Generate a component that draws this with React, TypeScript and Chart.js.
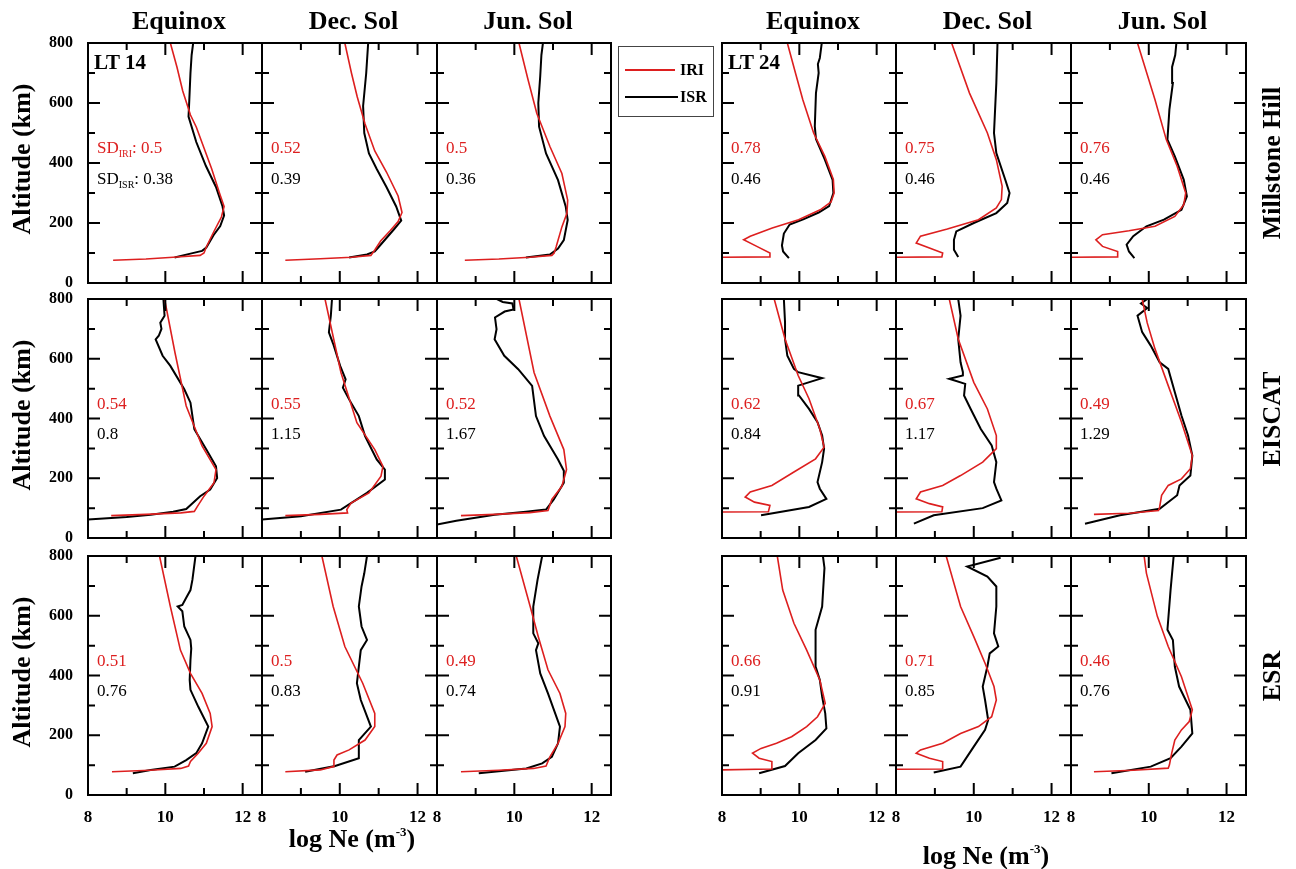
import React, { useEffect, useRef } from 'react';
import { Chart, registerables } from 'chart.js';

Chart.register(...registerables);

type Pt = [number, number]; // [log Ne, altitude km]

// ---------- labels / ticks ----------
const COLUMN_TITLES = ['Equinox', 'Dec. Sol', 'Jun. Sol'];
const ROW_LABELS = ['Millstone Hill', 'EISCAT', 'ESR'];
const LT_LABELS = ['LT 14', 'LT 24'];
const X_TICK_LABELS = [8, 10, 12];
const X_TICK_MARKS = [9, 10, 11, 12];
const Y_TICK_LABELS = [0, 200, 400, 600, 800];
const Y_TICK_MARKS = [100, 200, 300, 400, 500, 600, 700];
const X_MIN = 8, X_MAX = 12.5, Y_MIN = 0, Y_MAX = 800;
const SERIES_NAMES = ['IRI', 'ISR'];

const SD_IRI = [
  ['0.5', '0.52', '0.5', '0.78', '0.75', '0.76'],
  ['0.54', '0.55', '0.52', '0.62', '0.67', '0.49'],
  ['0.51', '0.5', '0.49', '0.66', '0.71', '0.46'],
];
const SD_ISR = [
  ['0.38', '0.39', '0.36', '0.46', '0.46', '0.46'],
  ['0.8', '1.15', '1.67', '0.84', '1.17', '1.29'],
  ['0.76', '0.83', '0.74', '0.91', '0.85', '0.76'],
];

// ---------- Millstone Hill ----------
const MH_EQ14_IRI: Pt[] = [[8.65,76],[9.5,80],[10.2,86],[10.9,92],[11.0,100],[11.06,120],[11.25,170],[11.45,220],[11.52,255],[11.4,300],[11.2,380],[11.0,450],[10.8,520],[10.65,560],[10.45,640],[10.3,720],[10.13,800]];
const MH_EQ14_ISR: Pt[] = [[10.24,85],[10.65,98],[10.95,107],[11.06,118],[11.25,160],[11.42,190],[11.52,225],[11.48,255],[11.31,320],[11.05,390],[10.8,470],[10.6,555],[10.62,610],[10.65,700],[10.68,760],[10.72,800]];
const MH_DEC14_IRI: Pt[] = [[8.6,76],[9.5,81],[10.3,86],[10.8,92],[10.9,110],[11.05,140],[11.3,175],[11.5,205],[11.6,235],[11.5,290],[11.2,370],[10.9,440],[10.65,530],[10.45,620],[10.3,700],[10.13,800]];
const MH_DEC14_ISR: Pt[] = [[10.24,85],[10.7,95],[10.9,105],[11.0,120],[11.2,150],[11.4,180],[11.58,208],[11.45,255],[11.2,320],[10.95,380],[10.75,432],[10.63,500],[10.6,590],[10.68,700],[10.73,800]];
const MH_JUN14_IRI: Pt[] = [[8.72,76],[9.6,80],[10.4,86],[10.97,92],[11.03,100],[11.08,120],[11.23,187],[11.36,232],[11.38,276],[11.23,365],[10.92,455],[10.58,566],[10.35,680],[10.12,800]];
const MH_JUN14_ISR: Pt[] = [[10.3,85],[10.92,95],[11.13,115],[11.28,143],[11.38,210],[11.33,254],[11.13,343],[10.82,432],[10.64,521],[10.62,600],[10.67,690],[10.7,760],[10.74,800]];
const MH_EQ24_IRI: Pt[] = [[8.0,86],[9.22,87],[9.24,100],[8.9,122],[8.56,144],[8.73,156],[9.3,183],[9.98,211],[10.54,244],[10.82,270],[10.9,300],[10.88,345],[10.66,422],[10.37,500],[10.09,611],[9.9,700],[9.69,800]];
const MH_EQ24_ISR: Pt[] = [[9.73,83],[9.58,105],[9.55,125],[9.6,165],[9.75,195],[10.1,212],[10.5,235],[10.77,256],[10.88,300],[10.86,344],[10.66,411],[10.43,480],[10.4,522],[10.43,633],[10.5,700],[10.48,730],[10.53,750],[10.58,800]];
const MH_DEC24_IRI: Pt[] = [[8.0,86],[9.18,87],[9.2,100],[8.86,117],[8.52,133],[8.63,156],[9.32,180],[10.12,211],[10.58,250],[10.71,278],[10.73,322],[10.58,411],[10.35,500],[9.89,633],[9.43,800]];
const MH_DEC24_ISR: Pt[] = [[9.6,87],[9.49,111],[9.49,144],[9.55,172],[10.0,200],[10.58,233],[10.86,267],[10.92,300],[10.81,344],[10.58,433],[10.52,500],[10.58,667],[10.61,800]];
const MH_JUN24_IRI: Pt[] = [[8.02,86],[9.2,87],[9.2,105],[8.81,122],[8.64,144],[8.81,161],[9.49,174],[10.16,189],[10.67,222],[10.9,261],[10.95,300],[10.73,389],[10.45,478],[10.16,611],[9.71,800]];
const MH_JUN24_ISR: Pt[] = [[9.63,83],[9.49,105],[9.43,128],[9.6,156],[9.94,189],[10.39,211],[10.84,244],[10.98,289],[10.9,344],[10.67,422],[10.48,478],[10.53,578],[10.62,667],[10.6,720],[10.68,760],[10.71,800]];

// ---------- EISCAT ----------
const EI_EQ14_IRI: Pt[] = [[8.6,75],[9.5,79],[10.4,84],[10.75,89],[10.83,106],[11.0,140],[11.26,185],[11.31,229],[10.95,308],[10.54,442],[10.25,620],[9.98,800]];
const EI_EQ14_ISR: Pt[] = [[8.0,62],[9.0,70],[9.62,78],[10.2,88],[10.54,97],[10.9,140],[11.16,162],[11.34,201],[11.31,240],[11.06,296],[10.75,364],[10.65,453],[10.49,498],[10.13,576],[9.93,610],[9.75,665],[9.83,677],[9.9,700],[9.87,721],[9.98,744],[9.95,800]];
const EI_DEC14_IRI: Pt[] = [[8.6,75],[9.5,79],[10.2,84],[10.18,95],[10.29,117],[10.75,151],[11.06,207],[11.11,240],[10.9,296],[10.44,386],[10.03,554],[9.62,800]];
const EI_DEC14_ISR: Pt[] = [[8.0,62],[9.0,73],[10.03,95],[10.7,151],[11.16,196],[11.16,229],[10.95,263],[10.65,341],[10.49,408],[10.24,464],[10.08,503],[10.15,531],[10.01,576],[9.83,650],[9.72,688],[9.77,744],[9.8,800]];
const EI_JUN14_IRI: Pt[] = [[8.62,75],[9.5,79],[10.4,85],[10.87,92],[10.97,129],[11.23,173],[11.35,229],[11.28,296],[10.92,408],[10.51,554],[10.12,800]];
const EI_JUN14_ISR: Pt[] = [[8.0,45],[8.5,58],[9.49,78],[10.3,88],[10.82,95],[11.02,129],[11.28,185],[11.28,225],[11.13,263],[10.77,341],[10.56,408],[10.46,509],[10.1,565],[9.74,610],[9.49,665],[9.54,699],[9.5,738],[9.75,758],[9.98,765],[9.95,785],[9.7,790],[9.55,800]];
const EI_EQ24_IRI: Pt[] = [[8.0,87],[9.2,88],[9.24,109],[8.84,120],[8.6,137],[8.73,154],[9.29,176],[9.86,221],[10.42,265],[10.64,304],[10.53,365],[10.25,466],[9.97,544],[9.63,666],[9.35,800]];
const EI_EQ24_ISR: Pt[] = [[9.01,76],[10.25,104],[10.7,131],[10.53,165],[10.47,187],[10.59,254],[10.64,299],[10.59,343],[10.47,388],[10.25,432],[9.99,477],[9.97,510],[10.59,535],[9.97,555],[9.86,566],[9.69,610],[9.63,666],[9.63,722],[9.6,800]];
const EI_DEC24_IRI: Pt[] = [[8.0,87],[9.18,88],[9.2,104],[8.86,115],[8.52,131],[8.63,154],[9.2,176],[9.66,209],[10.23,254],[10.58,299],[10.58,343],[10.35,432],[10.0,521],[9.6,666],[9.37,800]];
const EI_DEC24_ISR: Pt[] = [[8.46,48],[8.97,76],[10.23,100],[10.71,126],[10.58,165],[10.52,187],[10.58,254],[10.46,310],[10.18,365],[9.92,432],[9.75,477],[9.78,516],[9.37,533],[9.72,544],[9.72,555],[9.66,588],[9.6,666],[9.66,744],[9.6,800]];
const EI_JUN24_IRI: Pt[] = [[8.59,79],[9.5,83],[10.25,92],[10.28,104],[10.33,143],[10.5,176],[10.84,198],[11.07,232],[11.12,276],[10.84,388],[10.5,510],[10.16,633],[9.96,720],[9.83,800]];
const EI_JUN24_ISR: Pt[] = [[8.36,48],[9.26,76],[10.28,98],[10.73,143],[10.79,176],[11.07,209],[11.12,276],[11.01,343],[10.84,410],[10.67,488],[10.5,566],[10.28,588],[10.05,644],[9.83,689],[9.71,744],[9.96,770],[9.8,785],[9.96,800]];

// ---------- ESR ----------
const ES_EQ14_IRI: Pt[] = [[8.62,78],[9.6,83],[10.4,89],[10.6,97],[10.65,112],[10.85,140],[11.06,173],[11.21,229],[11.16,273],[10.95,340],[10.65,407],[10.39,485],[10.13,631],[9.85,800]];
const ES_EQ14_ISR: Pt[] = [[9.16,73],[9.62,84],[10.24,95],[10.54,117],[10.8,140],[10.95,173],[11.11,229],[10.85,296],[10.65,352],[10.63,385],[10.65,452],[10.67,490],[10.65,519],[10.49,564],[10.44,615],[10.32,631],[10.44,636],[10.54,660],[10.65,686],[10.7,720],[10.78,800]];
const ES_DEC14_IRI: Pt[] = [[8.6,78],[9.5,84],[9.83,95],[9.85,117],[9.93,134],[10.24,151],[10.65,184],[10.9,229],[10.9,273],[10.59,374],[10.13,497],[9.83,631],[9.54,800]];
const ES_DEC14_ISR: Pt[] = [[9.11,78],[9.88,97],[10.49,123],[10.49,184],[10.8,229],[10.54,318],[10.44,374],[10.49,430],[10.54,485],[10.7,519],[10.56,564],[10.49,631],[10.56,698],[10.63,742],[10.7,800]];
const ES_JUN14_IRI: Pt[] = [[8.62,78],[9.6,83],[10.5,89],[10.82,97],[10.92,128],[11.13,173],[11.31,229],[11.33,273],[11.18,340],[10.87,419],[10.62,530],[10.41,631],[10.05,800]];
const ES_JUN14_ISR: Pt[] = [[9.08,73],[10.31,89],[10.72,106],[10.97,128],[11.13,173],[11.18,229],[10.87,340],[10.67,407],[10.56,485],[10.62,508],[10.49,541],[10.49,631],[10.6,720],[10.72,800]];
const ES_EQ24_IRI: Pt[] = [[8.0,84],[9.29,87],[9.29,112],[8.96,123],[8.79,140],[9.01,156],[9.41,173],[9.8,195],[10.19,229],[10.47,262],[10.67,307],[10.53,385],[10.19,485],[9.86,575],[9.57,686],[9.43,800]];
const ES_EQ24_ISR: Pt[] = [[8.96,73],[9.63,97],[9.97,140],[10.42,184],[10.7,223],[10.67,273],[10.59,329],[10.53,385],[10.42,430],[10.42,519],[10.42,553],[10.59,631],[10.65,760],[10.61,800]];
const ES_DEC24_IRI: Pt[] = [[8.0,86],[9.2,87],[9.2,112],[8.86,123],[8.52,140],[8.63,151],[9.2,173],[9.66,206],[10.12,229],[10.46,262],[10.58,318],[10.52,363],[10.29,441],[10.0,530],[9.66,631],[9.29,800]];
const ES_DEC24_ISR: Pt[] = [[8.97,75],[9.66,95],[10.0,162],[10.29,218],[10.37,251],[10.29,318],[10.23,363],[10.35,430],[10.41,474],[10.63,497],[10.52,541],[10.58,631],[10.58,698],[10.35,731],[9.83,765],[10.69,794]];
const ES_JUN24_IRI: Pt[] = [[8.59,78],[9.6,83],[10.5,90],[10.53,100],[10.59,140],[10.67,184],[10.84,218],[11.04,246],[11.12,285],[10.84,396],[10.5,497],[10.22,598],[9.94,742],[9.88,800]];
const ES_JUN24_ISR: Pt[] = [[9.04,73],[10.05,95],[10.56,123],[10.84,162],[11.12,206],[11.07,285],[10.78,363],[10.67,430],[10.62,519],[10.48,553],[10.56,686],[10.64,800]];

const IRI_GRID: Pt[][][] = [
  [MH_EQ14_IRI, MH_DEC14_IRI, MH_JUN14_IRI, MH_EQ24_IRI, MH_DEC24_IRI, MH_JUN24_IRI],
  [EI_EQ14_IRI, EI_DEC14_IRI, EI_JUN14_IRI, EI_EQ24_IRI, EI_DEC24_IRI, EI_JUN24_IRI],
  [ES_EQ14_IRI, ES_DEC14_IRI, ES_JUN14_IRI, ES_EQ24_IRI, ES_DEC24_IRI, ES_JUN24_IRI],
];
const ISR_GRID: Pt[][][] = [
  [MH_EQ14_ISR, MH_DEC14_ISR, MH_JUN14_ISR, MH_EQ24_ISR, MH_DEC24_ISR, MH_JUN24_ISR],
  [EI_EQ14_ISR, EI_DEC14_ISR, EI_JUN14_ISR, EI_EQ24_ISR, EI_DEC24_ISR, EI_JUN24_ISR],
  [ES_EQ14_ISR, ES_DEC14_ISR, ES_JUN14_ISR, ES_EQ24_ISR, ES_DEC24_ISR, ES_JUN24_ISR],
];

// ---------- layout / style ----------
const FONT = "'Liberation Serif', 'Times New Roman', serif";
const RED = '#dd1f1f';
const COL_LEFT = [88, 262, 437, 722, 896, 1071];
const COL_RIGHT = [262, 437, 611, 896, 1071, 1246];
const ROW_TOP = [43, 299, 556];
const ROW_BOTTOM = [283, 538, 795];

const framePlugin = {
  id: 'frameTicks',
  afterDatasetsDraw(chart: any) {
    const { ctx, chartArea } = chart;
    const { left, top, right, bottom } = chartArea;
    const xs = chart.scales.x;
    const ys = chart.scales.y;
    ctx.save();
    ctx.strokeStyle = '#000';
    ctx.lineWidth = 2;
    ctx.beginPath();
    X_TICK_MARKS.forEach((v) => {
      const px = xs.getPixelForValue(v);
      const len = v % 2 === 0 ? 12 : 7;
      ctx.moveTo(px, bottom);
      ctx.lineTo(px, bottom - len);
      ctx.moveTo(px, top);
      ctx.lineTo(px, top + len);
    });
    Y_TICK_MARKS.forEach((v) => {
      const py = ys.getPixelForValue(v);
      const len = v % 200 === 0 ? 12 : 7;
      ctx.moveTo(left, py);
      ctx.lineTo(left + len, py);
      ctx.moveTo(right, py);
      ctx.lineTo(right - len, py);
    });
    ctx.stroke();
    ctx.strokeRect(left, top, right - left, bottom - top);
    ctx.restore();
  },
};

function Panel({ r, c }: { r: number; c: number }) {
  const ref = useRef<HTMLCanvasElement>(null);
  const L = COL_LEFT[c], R = COL_RIGHT[c], T = ROW_TOP[r], B = ROW_BOTTOM[r];
  const showY = c === 0;
  const showX = r === 2;
  const padL = showY ? L : 14;
  const padT = 14, padR = 14;
  const padB = showX ? 48 : 14;
  const w = R - L + padL + padR;
  const h = B - T + padT + padB;

  useEffect(() => {
    if (!ref.current) return;
    const chart = new Chart(ref.current, {
      type: 'scatter',
      data: {
        datasets: [
          {
            label: SERIES_NAMES[0],
            data: IRI_GRID[r][c].map(([x, y]) => ({ x, y })),
            showLine: true,
            borderColor: RED,
            backgroundColor: RED,
            borderWidth: 1.6,
            pointRadius: 0,
            tension: 0,
          },
          {
            label: SERIES_NAMES[1],
            data: ISR_GRID[r][c].map(([x, y]) => ({ x, y })),
            showLine: true,
            borderColor: '#000',
            backgroundColor: '#000',
            borderWidth: 2,
            pointRadius: 0,
            tension: 0,
          },
        ],
      },
      options: {
        responsive: false,
        animation: false,
        events: [],
        layout: {
          padding: { left: showY ? 0 : padL, right: padR, top: padT, bottom: showX ? 0 : padB },
        },
        plugins: { legend: { display: false }, tooltip: { enabled: false } },
        scales: {
          x: {
            type: 'linear',
            min: X_MIN,
            max: X_MAX,
            display: showX,
            position: 'bottom',
            afterBuildTicks: (s: any) => { s.ticks = X_TICK_LABELS.map((v) => ({ value: v })); },
            afterFit: (s: any) => { if (showX) s.height = padB; },
            grid: { display: false, drawTicks: true, tickLength: 12 },
            border: { display: false },
            ticks: { padding: 0, color: '#000', font: { family: FONT, size: 17, weight: 'bold' }, maxRotation: 0, autoSkip: false },
          },
          y: {
            type: 'linear',
            min: Y_MIN,
            max: Y_MAX,
            display: showY,
            position: 'left',
            afterBuildTicks: (s: any) => { s.ticks = Y_TICK_LABELS.map((v) => ({ value: v })); },
            afterFit: (s: any) => { if (showY) s.width = padL; },
            grid: { display: false, drawTicks: true, tickLength: 15 },
            border: { display: false },
            ticks: { padding: 0, color: '#000', font: { family: FONT, size: 16, weight: 'bold' }, autoSkip: false },
          },
        },
      } as any,
      plugins: [framePlugin],
    });
    return () => chart.destroy();
  }, [r, c]);

  return (
    <canvas
      ref={ref}
      width={w}
      height={h}
      style={{ position: 'absolute', left: L - padL, top: T - padT, width: w, height: h }}
    />
  );
}

function Txt({ x, y, children, size = 26, bold = true, rotate = 0, color = '#000' }: any) {
  return (
    <div
      style={{
        position: 'absolute',
        left: x,
        top: y,
        transform: `translate(-50%, -50%) rotate(${rotate}deg)`,
        whiteSpace: 'nowrap',
        fontFamily: FONT,
        fontSize: size,
        fontWeight: bold ? 'bold' : 'normal',
        color,
        lineHeight: 1,
      }}
    >
      {children}
    </div>
  );
}

function SdText({ x, y, color, label, sub, value }: any) {
  return (
    <div
      style={{
        position: 'absolute',
        left: x,
        top: y,
        transform: 'translateY(-50%)',
        whiteSpace: 'nowrap',
        fontFamily: FONT,
        fontSize: 17,
        color,
        lineHeight: 1,
      }}
    >
      {label ? (
        <>
          {label}
          <sub style={{ fontSize: 10, verticalAlign: 'baseline', position: 'relative', top: 4 }}>{sub}</sub>
          {': '}
        </>
      ) : null}
      {value}
    </div>
  );
}

export default function App() {
  const panels: React.ReactNode[] = [];
  const texts: React.ReactNode[] = [];
  for (let r = 0; r < 3; r++) {
    for (let c = 0; c < 6; c++) {
      panels.push(<Panel key={`p${r}-${c}`} r={r} c={c} />);
      const L = COL_LEFT[c];
      const T = ROW_TOP[r], B = ROW_BOTTOM[r];
      const H = B - T;
      const first = r === 0 && c === 0;
      texts.push(
        <SdText key={`sdi${r}-${c}`} x={L + 9} y={T + H * ((Y_MAX - 452) / Y_MAX)} color={RED}
          label={first ? 'SD' : null} sub="IRI" value={SD_IRI[r][c]} />,
      );
      texts.push(
        <SdText key={`sds${r}-${c}`} x={L + 9} y={T + H * ((Y_MAX - 350) / Y_MAX)} color="#000"
          label={first ? 'SD' : null} sub="ISR" value={SD_ISR[r][c]} />,
      );
    }
    const T = ROW_TOP[r], B = ROW_BOTTOM[r];
    texts.push(<Txt key={`alt${r}`} x={22} y={(T + B) / 2 - 4} rotate={-90}>Altitude (km)</Txt>);
    texts.push(<Txt key={`row${r}`} x={1272} y={(T + B) / 2} rotate={-90}>{ROW_LABELS[r]}</Txt>);
  }
  for (let c = 0; c < 6; c++) {
    texts.push(
      <Txt key={`title${c}`} x={(COL_LEFT[c] + COL_RIGHT[c]) / 2 + 4} y={21}>{COLUMN_TITLES[c % 3]}</Txt>,
    );
  }
  [0, 3].forEach((c, g) => {
    texts.push(
      <div key={`lt${g}`} style={{ position: 'absolute', left: COL_LEFT[c] + 6, top: 62, transform: 'translateY(-50%)',
        fontFamily: FONT, fontWeight: 'bold', fontSize: 21, lineHeight: 1, whiteSpace: 'nowrap' }}>
        {LT_LABELS[g]}
      </div>,
    );
  });
  const logNe = (
    <>
      log Ne (m<sup style={{ fontSize: 13, verticalAlign: 'baseline', position: 'relative', top: -11 }}>-3</sup>)
    </>
  );
  texts.push(<Txt key="xl0" x={352} y={839}>{logNe}</Txt>);
  texts.push(<Txt key="xl1" x={986} y={856}>{logNe}</Txt>);

  const legend = (
    <div key="legend" style={{ position: 'absolute', left: 618, top: 46, width: 94, height: 69,
      border: '1px solid #444', background: '#fff', fontFamily: FONT }}>
      {SERIES_NAMES.map((name, i) => (
        <React.Fragment key={name}>
          <div style={{ position: 'absolute', left: 6, top: 22 + i * 27, width: i === 0 ? 50 : 53, height: 2,
            background: i === 0 ? RED : '#000' }} />
          <div style={{ position: 'absolute', left: 61, top: 23 + i * 27, transform: 'translateY(-50%)',
            fontWeight: 'bold', fontSize: 16, lineHeight: 1 }}>{name}</div>
        </React.Fragment>
      ))}
    </div>
  );

  return (
    <div style={{ position: 'absolute', left: 0, top: 0, width: 1296, height: 869, background: '#fff', overflow: 'hidden' }}>
      {panels}
      {texts}
      {legend}
    </div>
  );
}
